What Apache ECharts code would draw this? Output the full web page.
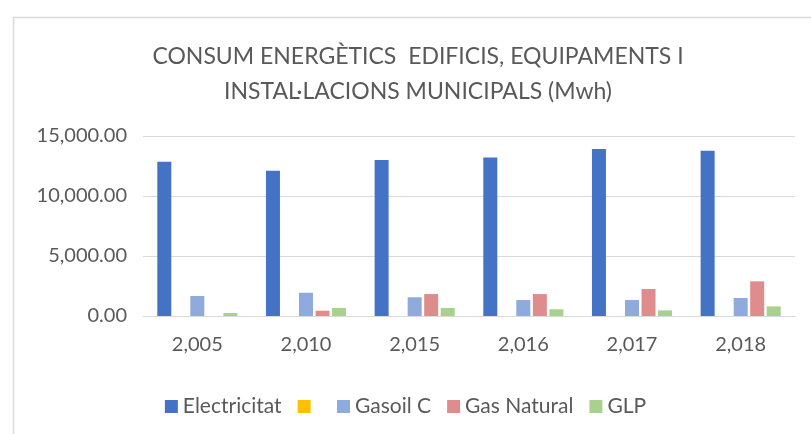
<!DOCTYPE html>
<html>
<head>
<meta charset="utf-8">
<script src="https://cdn.jsdelivr.net/npm/echarts@6/dist/echarts.min.js"></script>
<style>
html,body{margin:0;padding:0;background:#fff;}
#chart{width:811px;height:434px;}
</style>
</head>
<body>
<div id="chart"></div>
<script>
// dades llegides del gràfic
const years = ['2,005', '2,010', '2,015', '2,016', '2,017', '2,018']
const electricitat = [12850, 12100, 13000, 13200, 13920, 13780]
const buida = [0, 0, 0, 0, 0, 0]
const gasoilC = [1670, 1940, 1560, 1330, 1330, 1500]
const gasNatural = [0, 440, 1830, 1830, 2250, 2890]
const glp = [250, 670, 670, 560, 470, 800]
const yTicks = [0, 5000, 10000, 15000]

const txt = '#595959'
const font = 'Lato'

function fmt(v) {
  return v.toLocaleString('en-US', {minimumFractionDigits: 2, maximumFractionDigits: 2})
}

function bar(name, data, color) {
  return {
    name: name,
    type: 'bar',
    data: data,
    barWidth: 14,
    barGap: '18%',
    itemStyle: {color: color},
    emphasis: {disabled: true}
  }
}

let option = {
  backgroundColor: '#fff',
  animation: false,
  textStyle: {fontFamily: font},
  graphic: [{
    type: 'rect',
    left: 11, top: 15,
    shape: {width: 900, height: 500},
    style: {fill: 'none', stroke: '#d9d9d9', lineWidth: 1.5},
    silent: true
  }],
  title: {
    text: 'CONSUM ENERGÈTICS  EDIFICIS, EQUIPAMENTS I\nINSTAL·LACIONS MUNICIPALS (Mwh)',
    left: 413,
    textAlign: 'center',
    top: 34,
    textStyle: {color: txt, fontSize: 23, fontWeight: 'normal', lineHeight: 35, fontFamily: font}
  },
  legend: {
    bottom: 12,
    left: 'center',
    itemWidth: 13,
    itemHeight: 13,
    itemGap: 16,
    icon: 'rect',
    textStyle: {color: txt, fontSize: 21, fontFamily: font},
    data: ['Electricitat', ' ', 'Gasoil C', 'Gas Natural', 'GLP']
  },
  grid: {left: 143, right: 16, top: 136, bottom: 118},
  xAxis: {
    type: 'category',
    data: years,
    axisTick: {show: false},
    axisLine: {lineStyle: {color: '#d9d9d9'}},
    axisLabel: {color: txt, fontSize: 20, margin: 19, fontFamily: font}
  },
  yAxis: {
    type: 'value',
    min: yTicks[0],
    max: yTicks[yTicks.length - 1],
    interval: 5000,
    axisLine: {show: false},
    axisTick: {show: false},
    splitLine: {lineStyle: {color: '#d9d9d9'}},
    axisLabel: {color: txt, fontSize: 20, margin: 16, fontFamily: font, formatter: fmt}
  },
  series: [
    bar('Electricitat', electricitat, '#4472C4'),
    bar(' ', buida, '#FFC000'),
    bar('Gasoil C', gasoilC, '#8FAADC'),
    bar('Gas Natural', gasNatural, '#DE8C8C'),
    bar('GLP', glp, '#A9D18E')
  ]
}

let mapchart = echarts.init(document.getElementById('chart'))
mapchart.setOption(option)
</script>
</body>
</html>
